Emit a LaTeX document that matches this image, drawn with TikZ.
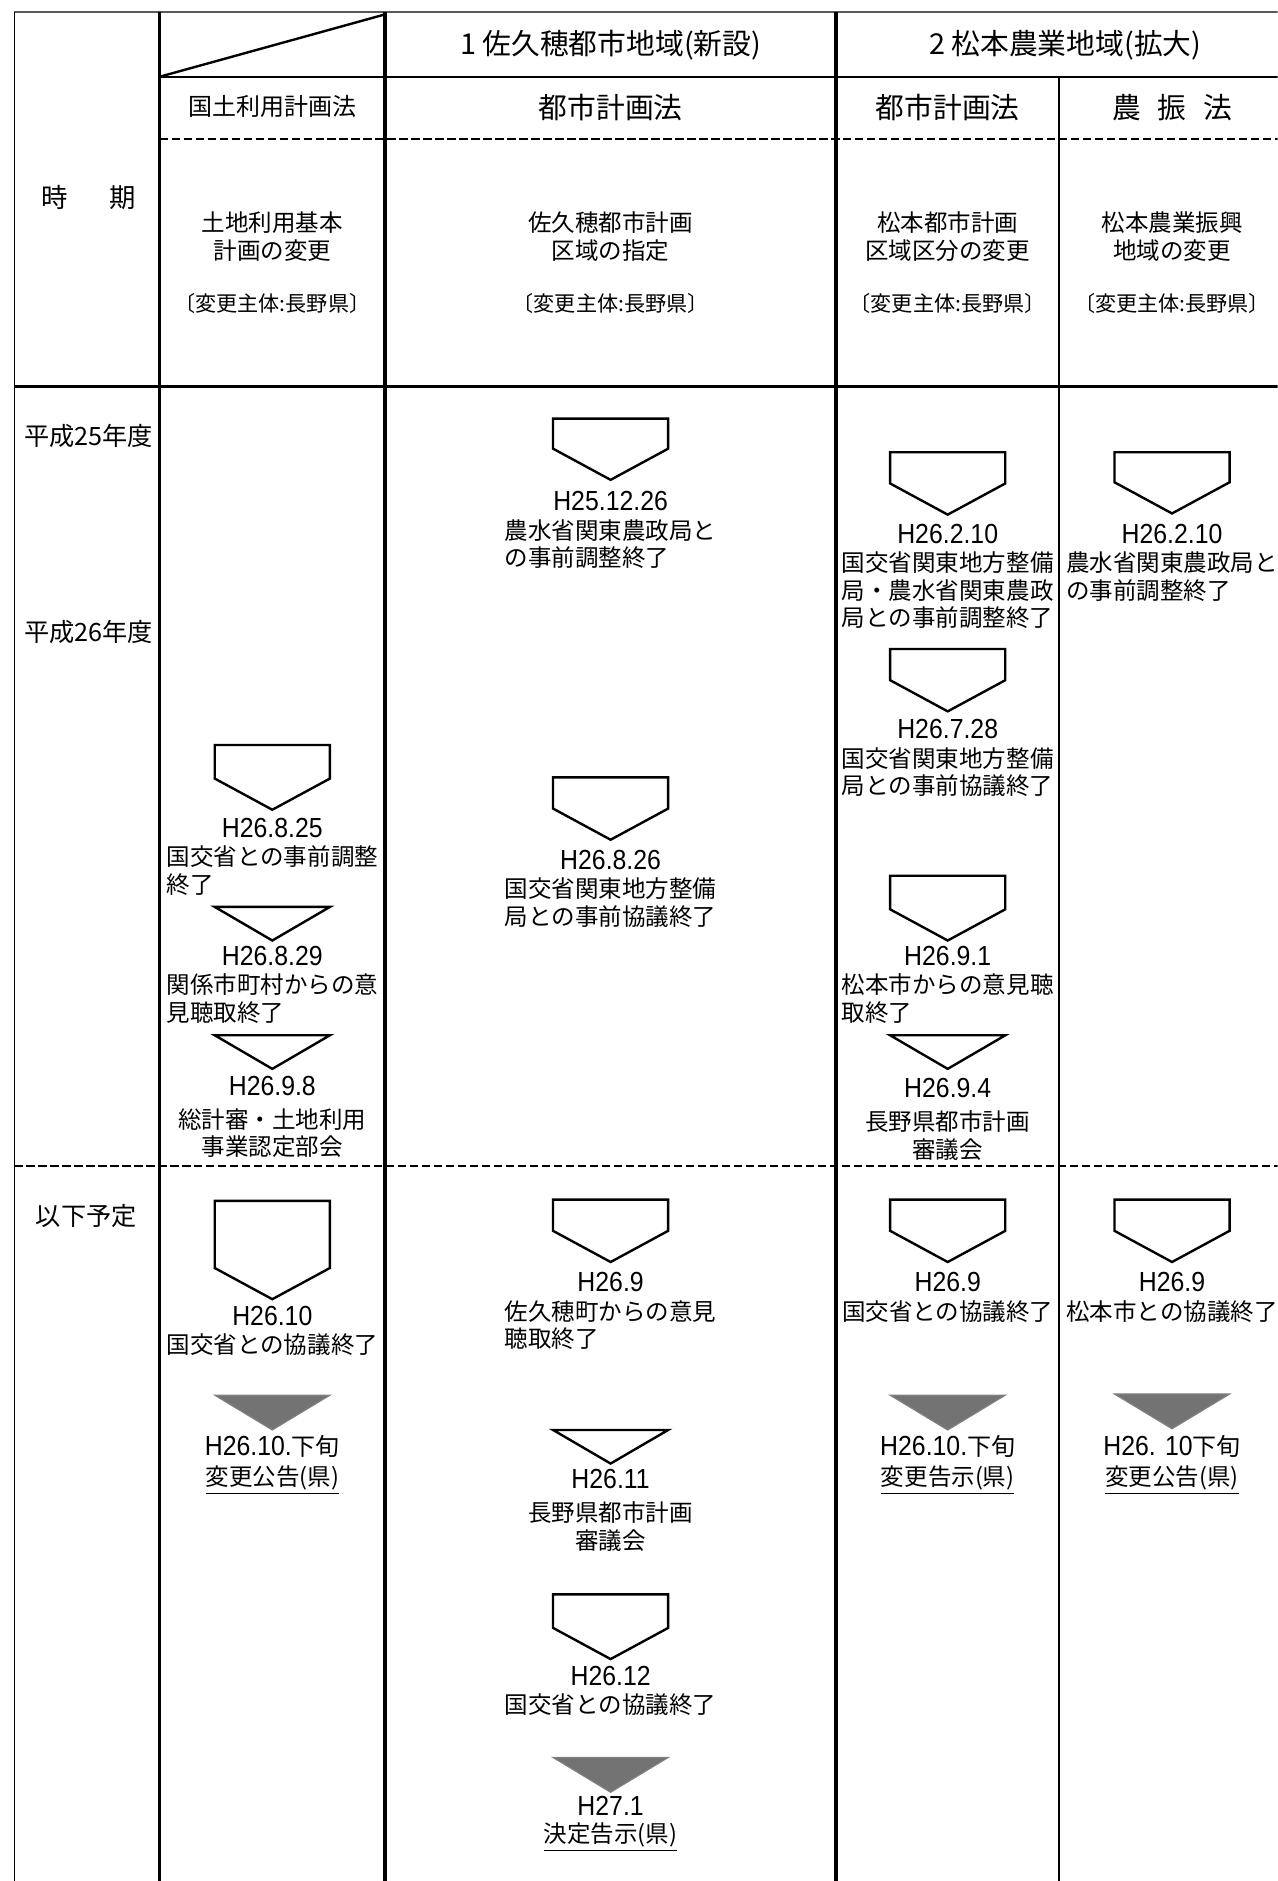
\documentclass[tikz,border=0pt]{standalone}
\usepackage{fontspec}
\setmainfont{Noto Sans CJK JP}
\newfontfamily\jpfont{Noto Sans CJK JP}
\newfontfamily\datefont[FakeStretch=0.9]{Liberation Sans}
\usetikzlibrary{positioning}

% CJK part inside a date label
\newcommand{\jpdate}[1]{{\jpfont\fontsize{10}{12}\selectfont #1}}

\begin{document}
\begin{tikzpicture}[x=0.5pt, y=-0.5pt]
    % -----------------------------
    % Parameters (tweak as needed)
    % -----------------------------
    \def\xL{12}      % left border
    \def\xA{133}     % period column | land use column
    \def\xB{321}     % land use column | Sakuho columns
    \def\xC{697}     % Sakuho | Matsumoto columns
    \def\xD{883}     % city planning | noshin law
    \def\xR{1090}    % right border (falls off the page)
    \def\yT{10}      % top border
    \def\yH{64}      % under the area headers
    \def\yS{116}     % dashed line under the law names
    \def\yP{322}     % header | time table
    \def\yF{972}     % dashed line before the planned steps
    \def\yB{1568}    % bottom of the page

    % Column centres
    \def\cB{227}
    \def\cC{509}
    \def\cD{790}
    \def\cE{977}

    \def\halfW{48}   % half width of every mark

    % -----------------------------
    % Styles and helpers
    % -----------------------------
    \tikzset{
      thinrule/.style={draw=black, line width=0.7pt},
      heavyrule/.style={draw=black, line width=1.4pt},
      dashrule/.style={draw=black, line width=0.8pt, dash pattern=on 3.4pt off 1.6pt},
      plate/.style={draw=black, fill=white, line width=1pt, line join=miter},
      darkplate/.style={draw=black!50, fill=black!55, line width=0.5pt},
      datelbl/.style={font=\datefont\fontsize{11.5}{13}\selectfont, inner sep=0pt},
      desc/.style={font=\fontsize{9.8}{11.5}\selectfont, inner sep=0pt, align=left},
      desccentre/.style={desc, align=center},
      headlbl/.style={font=\fontsize{12}{14}\selectfont, inner sep=0pt},
      lawlbl/.style={font=\fontsize{10}{12}\selectfont, inner sep=0pt},
      periodlbl/.style={font=\fontsize{10.5}{12}\selectfont, inner sep=0pt},
      ownerlbl/.style={font=\fontsize{8.8}{11}\selectfont, inner sep=0pt},
    }

    % Home plate mark: #1 x centre, #2 top y, #3 depth of the box part
    \newcommand{\platemark}[3]{%
      \draw[plate] (#1-\halfW,#2) -- (#1+\halfW,#2) -- (#1+\halfW,#2+#3)
        -- (#1,#2+#3+26) -- (#1-\halfW,#2+#3) -- cycle;
    }
    % Open triangle: #1 x centre, #2 top y
    \newcommand{\veemark}[2]{%
      \draw[plate] (#1-\halfW,#2) -- (#1+\halfW,#2) -- (#1,#2+28) -- cycle;
    }
    % Shaded triangle (notice of the change)
    \newcommand{\shademark}[2]{%
      \filldraw[darkplate] (#1-\halfW,#2) -- (#1+\halfW,#2) -- (#1,#2+29) -- cycle;
    }

    \useasboundingbox (0,0) rectangle (1065,1568);
    \clip (0,0) rectangle (1065,1568);

    % -----------------------------
    % Table rules
    % -----------------------------
    \draw[thinrule, draw=black!65, line width=1.2pt] (\xL,\yT) -- (\xR,\yT);
    \draw[thinrule] (\xL,\yT) -- (\xL,\yB);
    \draw[heavyrule] (\xA,\yT) -- (\xA,\yB);
    \draw[heavyrule] (\xB,\yT) -- (\xB,\yB);
    \draw[heavyrule] (\xC,\yT) -- (\xC,\yB);
    \draw[thinrule] (\xD,\yH) -- (\xD,\yB);
    \draw[thinrule, line width=1pt] (\xA,\yH) -- (\xR,\yH);
    \draw[thinrule, line width=1.2pt] (\xL,\yP) -- (\xR,\yP);
    \draw[dashrule] (\xA,\yS) -- (\xR,\yS);
    \draw[dashrule] (\xL,\yF) -- (\xR,\yF);
    \draw[thinrule, line width=1pt] (\xA,\yH) -- (\xB,\yT+2);

    % -----------------------------
    % Header cells
    % -----------------------------
    \node[periodlbl, font=\fontsize{11}{12}\selectfont] (PeriodHead) at (74,165) {時\hspace{17pt}期};
    \node[headlbl] (AreaOne) at (509,38) {1 佐久穂都市地域(新設)};
    \node[headlbl] (AreaTwo) at (888,38) {2 松本農業地域(拡大)};

    \node[lawlbl] (LawB) at (\cB,89) {国土利用計画法};
    \node[headlbl] (LawC) at (\cC,90) {都市計画法};
    \node[headlbl] (LawD) at (\cD,90) {都市計画法};
    \node[headlbl] (LawE) at (\cE,90) {農\hspace{7pt}振\hspace{7pt}法};

    \node[desccentre] (PlanB) at (\cB,197) {土地利用基本\\計画の変更};
    \node[desccentre] (PlanC) at (\cC,197) {佐久穂都市計画\\区域の指定};
    \node[desccentre] (PlanD) at (\cD,197) {松本都市計画\\区域区分の変更};
    \node[desccentre] (PlanE) at (\cE,197) {松本農業振興\\地域の変更};

    \node[ownerlbl] (OwnerB) at (\cB,253) {〔変更主体:長野県〕};
    \node[ownerlbl] (OwnerC) at (\cC,253) {〔変更主体:長野県〕};
    \node[ownerlbl] (OwnerD) at (\cD,253) {〔変更主体:長野県〕};
    \node[ownerlbl] (OwnerE) at (\cE,253) {〔変更主体:長野県〕};

    % Periods
    \node[periodlbl] (PeriodA) at (74,363) {平成25年度};
    \node[periodlbl] (PeriodB) at (74,527) {平成26年度};
    \node[periodlbl] (PeriodC) at (72,1014) {以下予定};

    % -----------------------------
    % Land use plan column
    % -----------------------------
    \platemark{\cB}{621}{28}
    \node[datelbl] (DateB1) at (\cB,690) {H26.8.25};
    \node[desc, below=3pt of DateB1] (TextB1) {国交省との事前調整\\終了};
    \veemark{\cB}{756}
    \node[datelbl] (DateB2) at (\cB,797) {H26.8.29};
    \node[desc, below=3pt of DateB2] (TextB2) {関係市町村からの意\\見聴取終了};
    \veemark{\cB}{863}
    \node[datelbl] (DateB3) at (\cB,905) {H26.9.8};
    \node[desccentre, below=5pt of DateB3] (TextB3) {総計審・土地利用\\事業認定部会};
    \platemark{\cB}{1001}{56}
    \node[datelbl] (DateB4) at (\cB,1097) {H26.10};
    \node[desc, below=3pt of DateB4] (TextB4) {国交省との協議終了};
    \shademark{\cB}{1163}
    \node[datelbl] (DateB5) at (\cB,1206) {H26.10.\jpdate{下旬}};
    \node[desc, below=3pt of DateB5] (TextB5) {\underline{変更公告(県)}};

    % -----------------------------
    % Sakuho city planning column
    % -----------------------------
    \platemark{\cC}{349}{25}
    \node[datelbl] (DateC1) at (\cC,418) {H25.12.26};
    \node[desc, below=3pt of DateC1] (TextC1) {農水省関東農政局と\\の事前調整終了};
    \platemark{\cC}{648}{26}
    \node[datelbl] (DateC2) at (\cC,717) {H26.8.26};
    \node[desc, below=3pt of DateC2] (TextC2) {国交省関東地方整備\\局との事前協議終了};
    \platemark{\cC}{1000}{26}
    \node[datelbl] (DateC3) at (\cC,1069) {H26.9};
    \node[desc, below=3pt of DateC3] (TextC3) {佐久穂町からの意見\\聴取終了};
    \veemark{\cC}{1192}
    \node[datelbl] (DateC4) at (\cC,1233) {H26.11};
    \node[desccentre, below=5pt of DateC4] (TextC4) {長野県都市計画\\審議会};
    \platemark{\cC}{1329}{28}
    \node[datelbl] (DateC5) at (\cC,1397) {H26.12};
    \node[desc, below=3pt of DateC5] (TextC5) {国交省との協議終了};
    \shademark{\cC}{1465}
    \node[datelbl] (DateC6) at (\cC,1505) {H27.1};
    \node[desc, below=3pt of DateC6] (TextC6) {\underline{決定告示(県)}};

    % -----------------------------
    % Matsumoto city planning column
    % -----------------------------
    \platemark{\cD}{377}{26}
    \node[datelbl] (DateD1) at (\cD,445) {H26.2.10};
    \node[desc, below=3pt of DateD1] (TextD1) {国交省関東地方整備\\局・農水省関東農政\\局との事前調整終了};
    \platemark{\cD}{541}{26}
    \node[datelbl] (DateD2) at (\cD,608) {H26.7.28};
    \node[desc, below=3pt of DateD2] (TextD2) {国交省関東地方整備\\局との事前協議終了};
    \platemark{\cD}{730}{28}
    \node[datelbl] (DateD3) at (\cD,797) {H26.9.1};
    \node[desc, below=3pt of DateD3] (TextD3) {松本市からの意見聴\\取終了};
    \veemark{\cD}{863}
    \node[datelbl] (DateD4) at (\cD,907) {H26.9.4};
    \node[desccentre, below=5pt of DateD4] (TextD4) {長野県都市計画\\審議会};
    \platemark{\cD}{1000}{26}
    \node[datelbl] (DateD5) at (\cD,1069) {H26.9};
    \node[desc, below=3pt of DateD5] (TextD5) {国交省との協議終了};
    \shademark{\cD}{1163}
    \node[datelbl] (DateD6) at (\cD,1206) {H26.10.\jpdate{下旬}};
    \node[desc, below=3pt of DateD6] (TextD6) {\underline{変更告示(県)}};

    % -----------------------------
    % Matsumoto noshin column
    % -----------------------------
    \platemark{\cE}{377}{25}
    \node[datelbl] (DateE1) at (\cE,445) {H26.2.10};
    \node[desc, below=3pt of DateE1] (TextE1) {農水省関東農政局と\\の事前調整終了};
    \platemark{\cE}{1000}{26}
    \node[datelbl] (DateE2) at (\cE,1069) {H26.9};
    \node[desc, below=3pt of DateE2] (TextE2) {松本市との協議終了};
    \shademark{\cE}{1162}
    \node[datelbl] (DateE3) at (\cE,1206) {H26. 10\jpdate{下旬}};
    \node[desc, below=3pt of DateE3] (TextE3) {\underline{変更公告(県)}};

\end{tikzpicture}
\end{document}
